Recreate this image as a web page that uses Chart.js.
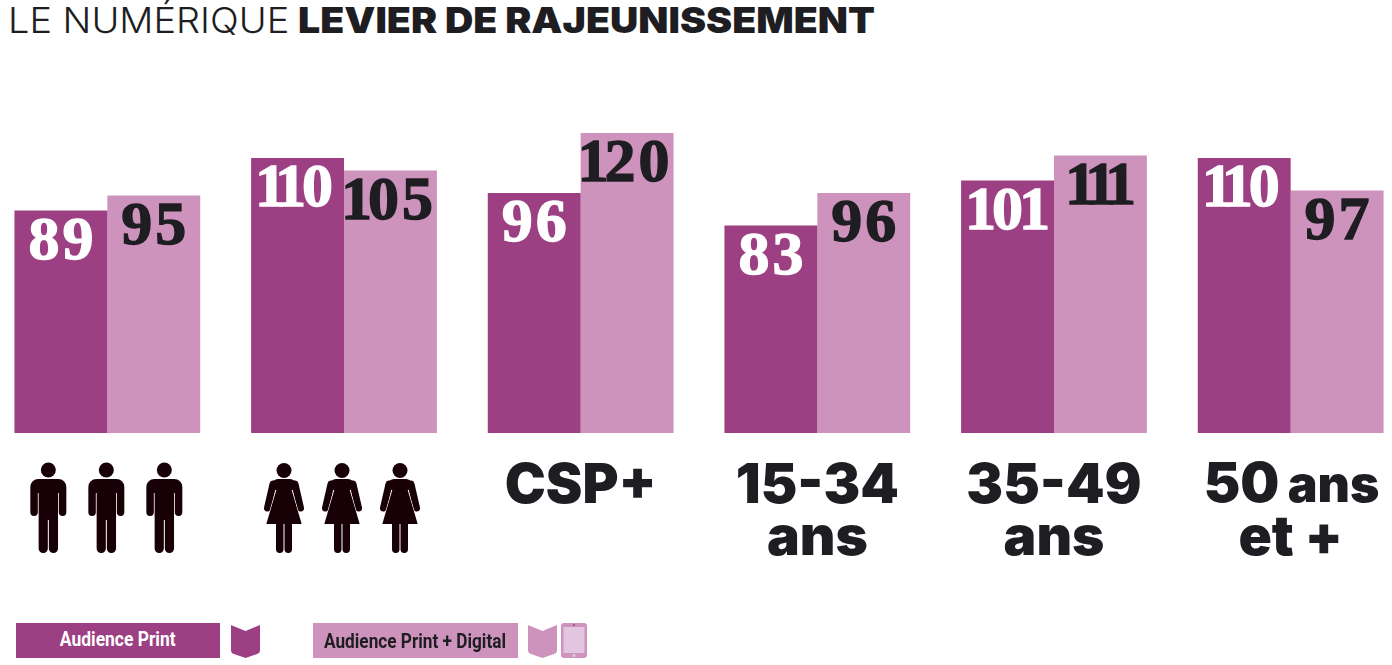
<!DOCTYPE html>
<html lang="fr">
<head>
<meta charset="utf-8">
<title>Le numérique levier de rajeunissement</title>
<script src="https://cdn.jsdelivr.net/npm/chart.js@4/dist/chart.umd.min.js"></script>
<style>
  html, body { margin: 0; padding: 0; background: #fff; overflow: hidden; width: 1392px; height: 665px; }
  #chart { position: absolute; left: -11px; top: 0; }
  h1 { position: absolute; top: -2px; margin: 0; font: 300 36px Inter, sans-serif; color: #1e1d22; white-space: nowrap; transform-origin: 0 0; }
  #title-light { left: 8px; transform: scaleX(1.053); }
  #title-bold { left: 298px; font-weight: 900; transform: scaleX(1.09); }
  .key { position: absolute; top: 623px; height: 35px; line-height: 33px; text-align: center; font-family: Roboto, sans-serif; font-weight: 700; font-size: 21px; white-space: nowrap; }
  .key span { display: inline-block; transform: scaleX(0.83); }
  #key-print { left: 16px; width: 204px; background: #9c4083; color: #fff; }
  #key-digital { left: 313px; width: 205px; background: #cd93bc; color: #1e1d22; line-height: 36px; }
  #key-digital span { margin-left: -9px; transform: scaleX(0.82); }
  svg { position: absolute; top: 623px; }
</style>
</head>
<body>
<h1 id="title-light">LE NUMÉRIQUE</h1>
<h1 id="title-bold">LEVIER DE RAJEUNISSEMENT</h1>
<canvas id="chart" width="1420" height="665" style="width:1420px;height:665px"></canvas>
<div class="key" id="key-print"><span></span></div>
<div class="key" id="key-digital"><span></span></div>
<svg style="left:231px" width="29" height="35"><path d="M0 2 L14.5 8 L29 2 V27 Q29 30 26 31 L14.5 35 L3 31 Q0 30 0 27 Z" fill="#9c4083"/></svg>
<svg style="left:528px" width="29" height="35"><path d="M0 2 L14.5 8 L29 2 V27 Q29 30 26 31 L14.5 35 L3 31 Q0 30 0 27 Z" fill="#cd93bc"/></svg>
<svg style="left:561px" width="26" height="35"><rect width="26" height="35" rx="3" fill="#cd93bc"/><rect x="2.5" y="4" width="21" height="26" fill="#e2c5df"/><circle cx="13" cy="32.5" r="1.6" fill="#e2c5df"/><circle cx="13" cy="2" r="1" fill="#9c4083"/></svg>
<script>
const categories = ['Hommes', 'Femmes', 'CSP+', '15-34 ans', '35-49 ans', '50 ans et +'];
const axisLabels = ['', '', ['CSP+'], ['15-34', 'ans'], ['35-49', 'ans'], ['', 'et +']];
const seriesNames = ['Audience Print', 'Audience Print + Digital'];
const printValues = [89, 110, 96, 83, 101, 110];
const digitalValues = [95, 105, 120, 96, 111, 97];

const DARK = '#9c4083';
const LIGHT = '#cd93bc';
const INK = '#1e1d22';
const ICON = '#170006';

document.querySelector('#key-print span').textContent = seriesNames[0];
document.querySelector('#key-digital span').textContent = seriesNames[1];

function drawMan(ctx, x) {
  ctx.fillStyle = ICON;
  ctx.beginPath();
  ctx.arc(x, 470, 7.5, 0, Math.PI * 2);
  ctx.fill();
  ctx.beginPath();
  ctx.roundRect(x - 18, 479, 36, 14, [8, 8, 0, 0]);
  ctx.roundRect(x - 18, 485, 7.5, 31, 3.7);
  ctx.roundRect(x + 10.5, 485, 7.5, 31, 3.7);
  ctx.rect(x - 9.7, 485, 19.4, 35);
  ctx.roundRect(x - 9.7, 510, 9.2, 43, 4.5);
  ctx.roundRect(x + 0.5, 510, 9.2, 43, 4.5);
  ctx.fill();
}

function drawWoman(ctx, x) {
  ctx.fillStyle = ICON;
  ctx.strokeStyle = ICON;
  ctx.lineCap = 'round';
  ctx.lineWidth = 7;
  ctx.beginPath();
  ctx.arc(x, 470.5, 7.5, 0, Math.PI * 2);
  ctx.fill();
  ctx.beginPath();
  ctx.moveTo(x - 11, 484);
  ctx.lineTo(x - 16.5, 508);
  ctx.moveTo(x + 11, 484);
  ctx.lineTo(x + 16.5, 508);
  ctx.stroke();
  ctx.lineCap = 'butt';
  ctx.beginPath();
  ctx.moveTo(x - 6.5, 486);
  ctx.lineTo(x + 6.5, 486);
  ctx.lineTo(x + 17.7, 524);
  ctx.lineTo(x - 17.7, 524);
  ctx.closePath();
  ctx.strokeStyle = '#fff';
  ctx.lineWidth = 1.2;
  ctx.stroke();
  ctx.fill();
  ctx.beginPath();
  ctx.roundRect(x - 12, 479, 24, 11, [6, 6, 0, 0]);
  ctx.roundRect(x - 8, 520, 7.5, 33, 3.7);
  ctx.roundRect(x + 0.5, 520, 7.5, 33, 3.7);
  ctx.fill();
}

// the reference has old style proportional figures, so the 1 gets a narrow cell
function drawNumber(ctx, value, x, y) {
  const digits = String(value).split('');
  const cell = c => (c === '1' ? 20 : 34);
  let left = x - digits.reduce((sum, c) => sum + cell(c), 0) / 2;
  digits.forEach(c => {
    const mid = left + cell(c) / 2;
    ctx.fillText(c, mid, y);
    ctx.strokeText(c, mid, y);
    left += cell(c);
  });
}

// big numbers inside the bars + pictograms and the mixed size label
const overlay = {
  id: 'overlay',
  afterDatasetsDraw(chart) {
    const ctx = chart.ctx;
    ctx.save();
    ctx.textAlign = 'center';
    ctx.textBaseline = 'alphabetic';
    ctx.font = 'bold 62px "Liberation Serif", serif';
    chart.data.datasets.forEach((ds, d) => {
      chart.getDatasetMeta(d).data.forEach((bar, i) => {
        ctx.fillStyle = d === 0 ? '#fff' : INK;
        ctx.strokeStyle = ctx.fillStyle;
        ctx.lineWidth = 1.4;
        drawNumber(ctx, ds.data[i], bar.x, bar.y + 48);
      });
    });
    const x0 = chart.scales.x.getPixelForValue(0) - 1;
    const x1 = chart.scales.x.getPixelForValue(1) - 2;
    [-58, 0, 58].forEach(dx => {
      drawMan(ctx, x0 + dx);
      drawWoman(ctx, x1 + dx);
    });
    // "50" and "ans" are not the same size on this label
    const x5 = chart.scales.x.getPixelForValue(5) + 1;
    ctx.fillStyle = INK;
    ctx.textAlign = 'left';
    ctx.font = '900 55px Inter, sans-serif';
    ctx.fillText('50', x5 - 88, 502);
    ctx.font = '900 50px Inter, sans-serif';
    ctx.fillText('ans', x5 - 4, 502);
    ctx.restore();
  }
};

new Chart(document.getElementById('chart'), {
  type: 'bar',
  data: {
    labels: categories,
    datasets: [
      { label: seriesNames[0], data: printValues, backgroundColor: DARK },
      { label: seriesNames[1], data: digitalValues, backgroundColor: LIGHT }
    ]
  },
  options: {
    responsive: false,
    animation: false,
    layout: { padding: { top: 33, left: 0, right: 0, bottom: 0 } },
    datasets: { bar: { categoryPercentage: 0.785, barPercentage: 1 } },
    plugins: { legend: { display: false }, title: { display: false }, tooltip: { enabled: false } },
    scales: {
      y: { display: false, min: 0, max: 160 },
      x: {
        grid: { display: false },
        border: { display: false },
        afterFit(scale) { scale.height = 232; },
        ticks: {
          maxRotation: 0,
          autoSkip: false,
          padding: 19,
          color: INK,
          font: { family: 'Inter, sans-serif', weight: '900', size: 55, lineHeight: 0.95 },
          callback(value, i) { return axisLabels[i]; }
        }
      }
    }
  },
  plugins: [overlay]
});
</script>
</body>
</html>
